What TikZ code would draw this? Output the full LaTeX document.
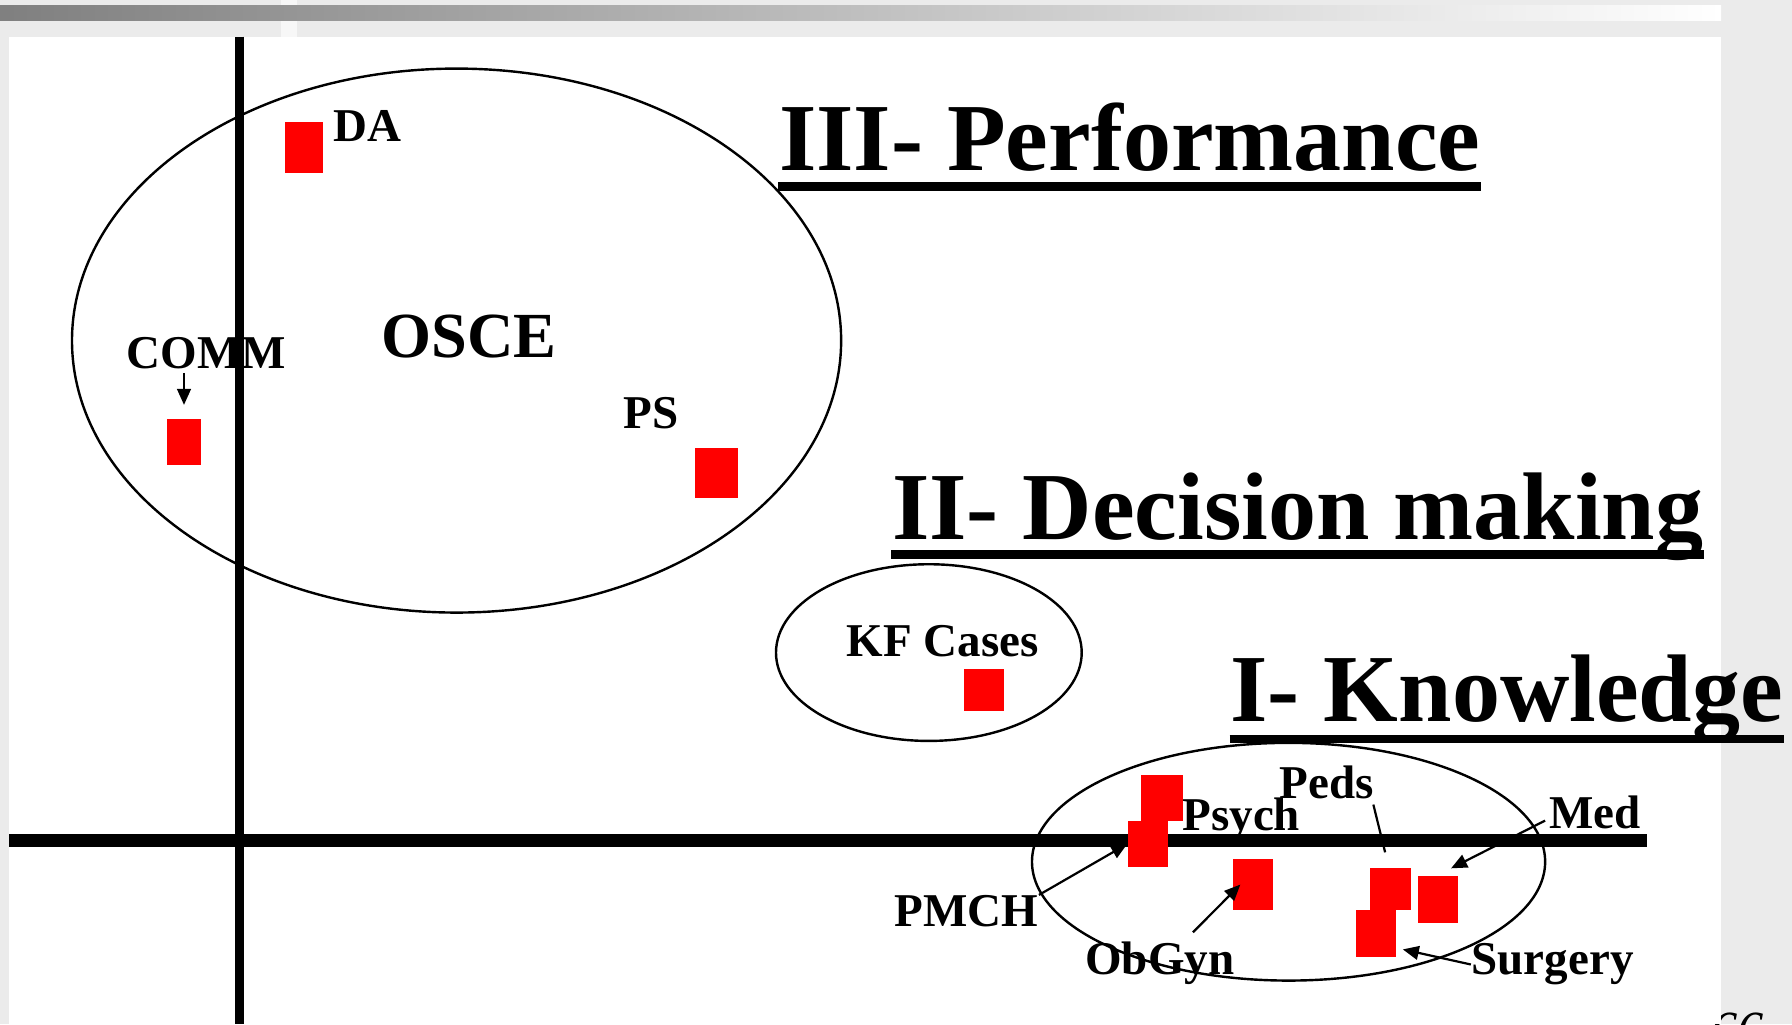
\documentclass[tikz,border=0pt]{standalone}
\usepackage{fontspec}
\setmainfont{Liberation Serif}
\usetikzlibrary{
  arrows.meta, % for the small arrow heads
  calc,
  positioning,
}

\definecolor{slidegray}{HTML}{EBEBEB}
\definecolor{stripgray}{HTML}{F7F7F7}

\tikzset{
  heading/.style={font=\bfseries\fontsize{23.9}{28}\selectfont, inner sep=0pt, anchor=base west},
  lbl/.style={font=\bfseries\fontsize{11.7}{14}\selectfont, inner sep=0pt, anchor=base west},
  redbox/.style 2 args={fill=red, inner sep=0pt, minimum width=#1, minimum height=#2},
  ring/.style={draw, line width=0.6pt},
  arr/.style={-{Triangle[length=1.4mm, width=1.2mm]}, line width=0.55pt},
  underbar/.style={line width=0.075cm},
}

\begin{document}
\begin{tikzpicture}[x=0.01cm, y=-0.01cm]
              \useasboundingbox (0,0) rectangle (1568,896);
              \clip (0,0) rectangle (1568,896);
              \fill[slidegray] (0,0) rectangle (1568,896);
              \fill[stripgray] (246,0) rectangle (260,32);
              \shade[left color=black!50, middle color=black!18, right color=white] (0,4.5) rectangle (1506,18);
              \node [anchor=north west, inner sep=0pt, font=\fontsize{13}{15}\selectfont\itshape] (pageno) at (1497,886) {66};
              \fill[white] (8,32) rectangle (1506,896);

              \draw [line width=0.079cm] (209.5,32) -- (209.5,896);
              \draw [line width=0.11cm] (8,735.5) -- (1441,735.5);

              \draw [ring] (399.5,298) ellipse [x radius=336.5, y radius=238];
              \draw [ring] (812.75,571) ellipse [x radius=133.75, y radius=77.3];
              \draw [ring] (1127.5,754) ellipse [x radius=224.5, y radius=104];

              \node [heading] (perf) at (681,149) {III- Performance};
              \node [heading] (decis) at (780,472) {II- Decision making};
              \node [heading] (knowl) at (1076,631.5) {I- Knowledge};
              \draw [underbar] ($(perf.base west)+(0,14)$) -- ($(perf.base east)+(0,14)$);
              \draw [underbar] ($(decis.base west)+(0,13)$) -- ($(decis.base east)+(0,13)$);
              \draw [underbar] ($(knowl.base west)+(0,15)$) -- ($(knowl.base east)+(0,15)$);

              \node [lbl, font=\bfseries\fontsize{16}{19}\selectfont] (osce) at (333,313) {OSCE};
              \node [lbl] (da) at (291,123.5) {DA};
              \node [lbl] (comm) at (110,322.5) {COMM};
              \node [lbl] (ps) at (545,375) {PS};
              \node [lbl] (kf) at (740,574) {KF Cases};
              \node [lbl] (peds) at (1119,699) {Peds};
              \node [lbl] (psych) at (1034,727) {Psych};
              \node [lbl] (med) at (1355,725) {Med};
              \node [lbl] (pmch) at (782,811) {PMCH};
              \node [lbl] (obgyn) at (949,853) {ObGyn};
              \node [lbl] (surgery) at (1287,853) {Surgery};

              \node [redbox={3.4mm}{4.4mm}] (sq-da) at (266,129) {};
              \node [redbox={3.0mm}{4.0mm}] (sq-comm) at (161,387) {};
              \node [redbox={3.8mm}{4.4mm}] (sq-ps) at (627,414) {};
              \node [redbox={3.5mm}{3.7mm}] (sq-kf) at (861,603.5) {};
              \node [redbox={3.7mm}{4.0mm}] (sq-psych) at (1016.5,698) {};
              \node [redbox={3.5mm}{4.1mm}] (sq-pmch) at (1004.5,738.5) {};
              \node [redbox={3.5mm}{4.4mm}] (sq-obgyn) at (1096.5,774) {};
              \node [redbox={3.6mm}{3.7mm}] (sq-peds) at (1217,778) {};
              \node [redbox={3.55mm}{4.1mm}] (sq-surgery) at (1204,816.5) {};
              \node [redbox={3.5mm}{4.1mm}] (sq-med) at (1258.5,787) {};

              \draw [arr] ([yshift=0.4cm]sq-comm.north) -- ([yshift=0.12cm]sq-comm.north);
              \draw [arr] (pmch.north east) -- (sq-pmch.west);
              \draw [arr] ($(obgyn.north)+(29,-8)$) -- ([xshift=0.07cm]sq-obgyn.west);
              \draw [line width=0.55pt] ($(peds.base east)+(-1,5)$) -- ($(sq-peds.north)+(-5,-13)$);
              \draw [arr] ($(med.base west)+(-3,-7)$) -- ($(sq-med.north east)+(-7,-6)$);
              \draw [arr] (surgery.west) -- ($(sq-surgery.south east)+(5,-7)$);
            \end{tikzpicture}
\end{document}
